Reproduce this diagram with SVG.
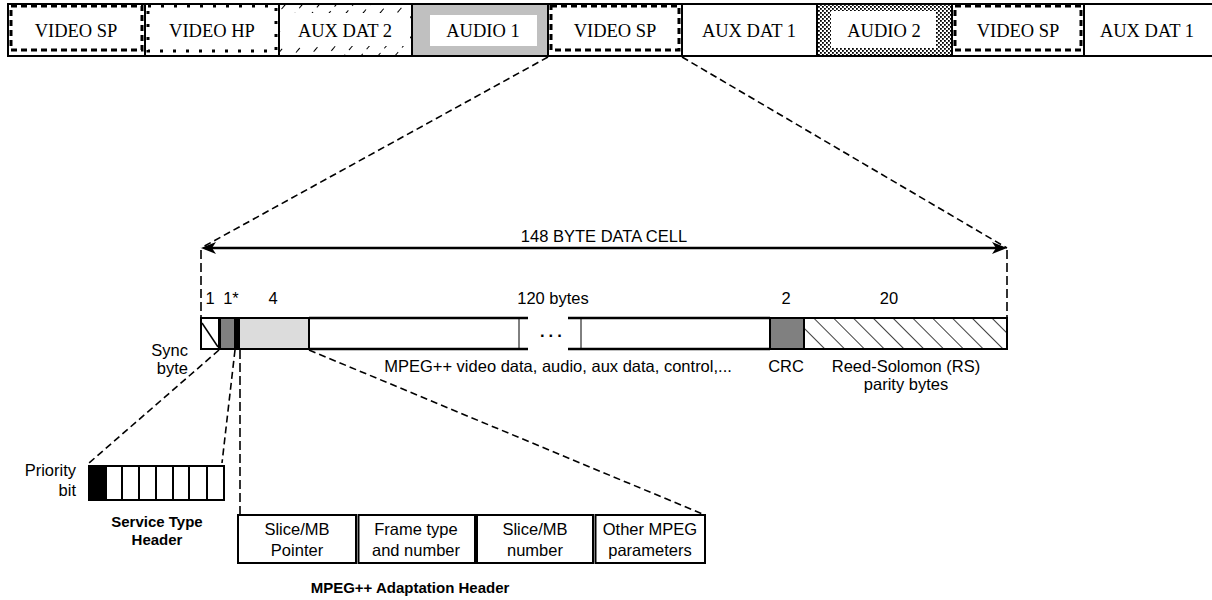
<svg xmlns="http://www.w3.org/2000/svg" width="1212" height="600" viewBox="0 0 1212 600">
<style>
.bg{fill:#fff}
.box{fill:#fff;stroke:#000;stroke-width:2}
.tl{font-family:"Liberation Serif",serif;font-size:18.5px;text-anchor:middle;fill:#000}
.sl{font-family:"Liberation Sans",Arial,sans-serif;font-size:16.5px;fill:#000}
.c{text-anchor:middle}
.e{text-anchor:end}
.b{font-weight:bold;font-size:15px}
.dash{fill:none;stroke:#000;stroke-width:1.6;stroke-dasharray:7 4}
.vdash{fill:none;stroke:#000;stroke-width:1.6;stroke-dasharray:9 4}
.sp{fill:none;stroke:#000;stroke-width:3;stroke-dasharray:6 4}
.hp{fill:none;stroke:#000;stroke-width:3;stroke-dasharray:3 10}
.thick{stroke:#000;stroke-width:2.5;fill:none}
.thin{stroke:#000;stroke-width:1;fill:none}
</style>
<defs>
<pattern id="hatch" width="14" height="14" patternUnits="userSpaceOnUse" patternTransform="rotate(-45)">
<line x1="0" y1="0" x2="0" y2="14" stroke="#000" stroke-width="1.5"/>
</pattern>
<pattern id="slash" width="13" height="12" patternUnits="userSpaceOnUse" patternTransform="rotate(40)">
<line x1="0" y1="0" x2="0" y2="12" stroke="#000" stroke-width="2" stroke-dasharray="6 6"/>
</pattern>
<pattern id="stipple" width="4" height="4" patternUnits="userSpaceOnUse">
<rect width="4" height="4" fill="#fff"/>
<rect x="0" y="0" width="1.8" height="1.8" fill="#000"/>
<rect x="2" y="2" width="1.8" height="1.8" fill="#000"/>
</pattern>
<marker id="arr" markerWidth="16" markerHeight="14" refX="11" refY="6" orient="auto-start-reverse" markerUnits="userSpaceOnUse">
<path d="M0,0 L15,6 L0,12 L4,6 Z" fill="#000"/>
</marker>
</defs>
<rect class="bg" x="0" y="0" width="1212" height="600"/>

<g id="timeline">
<g id="t1"><rect class="box" x="8" y="4" width="137" height="52"/><rect class="sp" x="11" y="6" width="131" height="44"/><text class="tl" x="76" y="37">VIDEO SP</text></g>
<g id="t2"><rect class="box" x="145" y="4" width="134" height="52"/><rect class="hp" x="148" y="6" width="128" height="45"/><text class="tl" x="212" y="37">VIDEO HP</text></g>
<g id="t3"><rect class="box" x="279" y="4" width="133" height="52" style="fill:url(#slash)"/><rect x="281" y="13" width="129" height="33" fill="#fff"/><text class="tl" x="345" y="37">AUX DAT 2</text></g>
<g id="t4"><rect class="box" x="412" y="4" width="136" height="52" style="fill:#c0c0c0"/><rect x="430" y="15" width="107" height="31" fill="#fff"/><text class="tl" x="483" y="37">AUDIO 1</text></g>
<g id="t5"><rect class="box" x="548" y="4" width="134" height="52"/><rect class="sp" x="551" y="6" width="128" height="44"/><text class="tl" x="615" y="37">VIDEO SP</text></g>
<g id="t6"><rect class="box" x="682" y="4" width="135" height="52"/><text class="tl" x="749" y="37">AUX DAT 1</text></g>
<g id="t7"><rect class="box" x="817" y="4" width="135" height="52" style="fill:url(#stipple)"/><rect x="831" y="11" width="105" height="37" fill="#fff"/><text class="tl" x="884" y="37">AUDIO 2</text></g>
<g id="t8"><rect class="box" x="952" y="4" width="132" height="52"/><rect class="sp" x="955" y="6" width="126" height="44"/><text class="tl" x="1018" y="37">VIDEO SP</text></g>
<g id="t9"><rect class="box" x="1084" y="4" width="140" height="52"/><text class="tl" x="1147" y="37">AUX DAT 1</text></g>
</g>

<g id="connectors">
<line class="dash" x1="548" y1="57" x2="201" y2="248"/>
<line class="dash" x1="682" y1="57" x2="1007" y2="248"/>
<line class="vdash" x1="201" y1="250" x2="201" y2="318"/>
<line class="vdash" x1="1007" y1="250" x2="1007" y2="318"/>
<line class="dash" x1="219" y1="350" x2="89" y2="463"/>
<line class="dash" x1="235" y1="350" x2="222" y2="463"/>
<line class="vdash" x1="240" y1="350" x2="240" y2="515"/>
<line class="dash" x1="309" y1="350" x2="705" y2="515"/>
<line x1="205" y1="248" x2="1003" y2="248" stroke="#000" stroke-width="2.5" marker-start="url(#arr)" marker-end="url(#arr)"/>
</g>

<g id="cell-label"><text class="sl c" x="604" y="242">148 BYTE DATA CELL</text></g>

<g id="byte-counts">
<text class="sl c" x="210" y="304">1</text>
<text class="sl c" x="231" y="304">1*</text>
<text class="sl c" x="273" y="304">4</text>
<text class="sl c" x="553" y="304">120 bytes</text>
<text class="sl c" x="786" y="304">2</text>
<text class="sl c" x="889" y="304">20</text>
</g>

<g id="data-cell">
<rect class="box" x="201" y="318" width="18" height="31"/>
<line class="thin" x1="202" y1="323" x2="218" y2="347" style="stroke-width:1.5"/>
<rect class="box" x="220" y="318" width="15" height="31" style="fill:#808080"/>
<rect x="235" y="317" width="4" height="33" fill="#000"/>
<rect class="box" x="239" y="318" width="70" height="31" style="fill:#dcdcdc"/>
<line class="thick" x1="309" y1="318" x2="528" y2="318"/>
<line class="thick" x1="309" y1="349" x2="528" y2="349"/>
<line class="thin" x1="519" y1="318" x2="519" y2="349"/>
<text class="sl" x="540" y="337" style="font-weight:bold;letter-spacing:4px">...</text>
<line class="thick" x1="568" y1="318" x2="770" y2="318"/>
<line class="thick" x1="568" y1="349" x2="770" y2="349"/>
<line class="thin" x1="581" y1="318" x2="581" y2="349"/>
<rect class="box" x="770" y="318" width="34" height="31" style="fill:#808080"/>
<rect class="box" x="804" y="318" width="203" height="31" style="fill:url(#hatch)"/>
</g>

<g id="cell-captions">
<text class="sl e" x="188" y="356">Sync</text>
<text class="sl e" x="188" y="374">byte</text>
<text class="sl c" x="558" y="372">MPEG++ video data, audio, aux data, control,...</text>
<text class="sl c" x="786" y="372">CRC</text>
<text class="sl c" x="906" y="372">Reed-Solomon (RS)</text>
<text class="sl c" x="906" y="390">parity bytes</text>
</g>

<g id="service-type-header">
<rect x="89" y="466" width="17" height="34" fill="#000" stroke="#000" stroke-width="2"/>
<rect class="box" x="106" y="466" width="16" height="34"/>
<rect class="box" x="122" y="466" width="17" height="34"/>
<rect class="box" x="139" y="466" width="17" height="34"/>
<rect class="box" x="156" y="466" width="17" height="34"/>
<rect class="box" x="173" y="466" width="16" height="34"/>
<rect class="box" x="189" y="466" width="18" height="34"/>
<rect class="box" x="207" y="466" width="17" height="34"/>
<text class="sl e" x="76" y="476">Priority</text>
<text class="sl e" x="76" y="496">bit</text>
<text class="sl b c" x="157" y="527">Service Type</text>
<text class="sl b c" x="157" y="545">Header</text>
</g>

<g id="adaptation-header">
<rect class="box" x="238" y="515" width="118" height="48"/>
<rect class="box" x="358.5" y="515" width="116.5" height="48"/>
<rect class="box" x="477" y="515" width="116" height="48"/>
<rect class="box" x="595.5" y="515" width="109.5" height="48"/>
<text class="sl c" x="297" y="535">Slice/MB</text>
<text class="sl c" x="297" y="556">Pointer</text>
<text class="sl c" x="416" y="535">Frame type</text>
<text class="sl c" x="416" y="556">and number</text>
<text class="sl c" x="535" y="535">Slice/MB</text>
<text class="sl c" x="535" y="556">number</text>
<text class="sl c" x="650" y="535">Other MPEG</text>
<text class="sl c" x="650" y="556">parameters</text>
<text class="sl b c" x="410" y="593">MPEG++ Adaptation Header</text>
</g>
</svg>
